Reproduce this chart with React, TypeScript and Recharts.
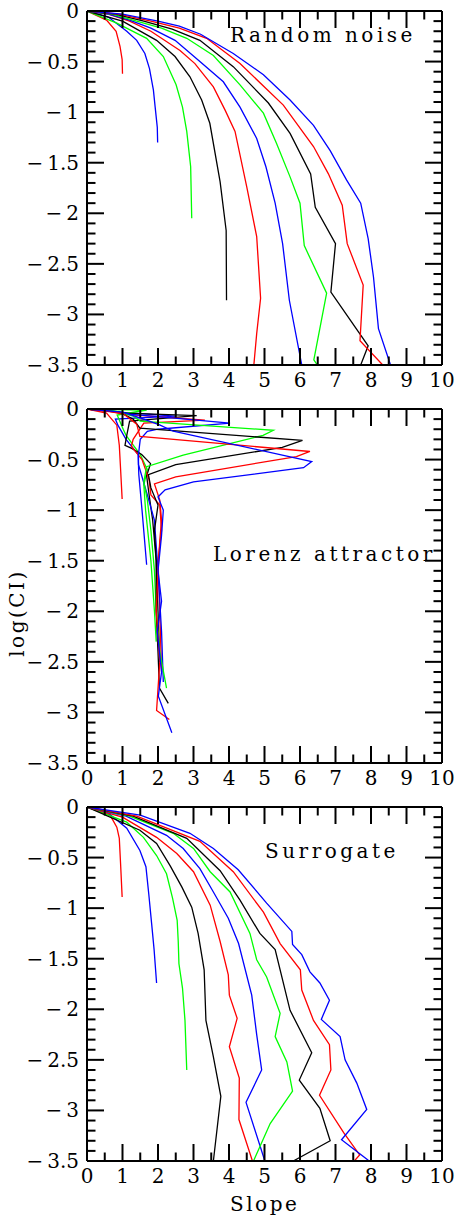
import React from 'react';
import { LineChart, Line, XAxis, YAxis } from 'recharts';

type Pt = { x: number; y: number };
const pts = (arr: number[][]): Pt[] => arr.map(([x, y]) => ({ x, y }));

// colour cycle for embedding dimensions 1..10
const dimColors = ['#ff0000', '#0000ff', '#00ff00', '#000000', '#ff0000', '#0000ff', '#00ff00', '#000000', '#ff0000', '#0000ff'];

const xTicks = [0, 0.5, 1, 1.5, 2, 2.5, 3, 3.5, 4, 4.5, 5, 5.5, 6, 6.5, 7, 7.5, 8, 8.5, 9, 9.5, 10];
const yTicks = [
  0, -0.1, -0.2, -0.3, -0.4, -0.5, -0.6, -0.7, -0.8, -0.9, -1, -1.1, -1.2, -1.3, -1.4, -1.5, -1.6, -1.7,
  -1.8, -1.9, -2, -2.1, -2.2, -2.3, -2.4, -2.5, -2.6, -2.7, -2.8, -2.9, -3, -3.1, -3.2, -3.3, -3.4, -3.5,
];

// Random noise
const noiseD1 = pts([[0, 0], [0.55, -0.09], [0.82, -0.2], [0.93, -0.35], [0.99, -0.48], [1.0, -0.62]]);
const noiseD2 = pts([[0, 0], [0.6, -0.06], [1.12, -0.2], [1.4, -0.29], [1.63, -0.42], [1.76, -0.57], [1.87, -0.78], [1.92, -0.95], [1.98, -1.15], [1.99, -1.3]]);
const noiseD3 = pts([[0, 0], [0.84, -0.12], [1.68, -0.27], [2.15, -0.45], [2.51, -0.73], [2.69, -0.95], [2.81, -1.19], [2.92, -1.54], [2.95, -2.05]]);
const noiseD4 = pts([[0, 0], [1.0, -0.1], [1.96, -0.29], [2.48, -0.45], [2.9, -0.65], [3.23, -0.88], [3.46, -1.11], [3.75, -1.69], [3.92, -2.17], [3.93, -2.86]]);
const noiseD5 = pts([[0, 0], [0.6, -0.03], [1.2, -0.1], [1.8, -0.2], [2.62, -0.39], [3.04, -0.52], [3.56, -0.75], [3.89, -0.98], [4.17, -1.19], [4.5, -1.74], [4.78, -2.23], [4.89, -2.84], [4.78, -3.19], [4.7, -3.5]]);
const noiseD6 = pts([[0, 0], [0.6, -0.03], [1.2, -0.09], [1.8, -0.17], [2.48, -0.29], [3.18, -0.5], [3.84, -0.7], [4.31, -0.95], [4.78, -1.26], [5.04, -1.54], [5.3, -1.9], [5.51, -2.3], [5.7, -2.86], [6.05, -3.5]]);
const noiseD7 = pts([[0, 0], [0.7, -0.03], [1.4, -0.1], [2.1, -0.17], [2.81, -0.27], [3.56, -0.44], [4.31, -0.73], [4.97, -1.01], [5.34, -1.31], [5.72, -1.64], [6.0, -1.9], [6.12, -2.32], [6.75, -2.79], [6.39, -3.45], [6.49, -3.5]]);
const noiseD8 = pts([[0, 0], [0.8, -0.03], [1.6, -0.1], [2.4, -0.18], [3.18, -0.29], [4.12, -0.55], [5.11, -0.91], [5.72, -1.21], [6.3, -1.61], [6.43, -1.94], [7.0, -2.3], [6.87, -2.78], [7.92, -3.31], [7.71, -3.5]]);
const noiseD9 = pts([[0, 0], [0.9, -0.03], [1.8, -0.1], [2.6, -0.17], [3.37, -0.27], [4.31, -0.52], [5.53, -0.93], [6.38, -1.34], [6.8, -1.61], [7.19, -1.92], [7.33, -2.3], [7.78, -2.71], [7.69, -3.26], [8.33, -3.5]]);
const noiseD10 = pts([[0, 0], [1.0, -0.03], [2.0, -0.1], [2.6, -0.15], [3.2, -0.23], [4.12, -0.42], [4.97, -0.63], [5.72, -0.88], [6.38, -1.13], [6.85, -1.38], [7.31, -1.67], [7.71, -1.9], [7.92, -2.25], [8.07, -2.63], [8.21, -3.14], [8.55, -3.5]]);

// Lorenz attractor
const lorenzD1 = pts([[0, 0], [0.55, -0.04], [0.84, -0.16], [0.91, -0.36], [0.95, -0.62], [0.99, -0.89]]);
const lorenzD2 = pts([[0, 0], [0.5, -0.01], [0.9, -0.03], [2.48, -0.07], [0.8, -0.1], [0.87, -0.16], [1.1, -0.3], [1.44, -0.45], [1.46, -0.65], [1.55, -1.0], [1.68, -1.54]]);
const lorenzD3 = pts([[0, 0], [0.6, -0.005], [1.68, -0.01], [0.85, -0.06], [1.02, -0.2], [1.1, -0.26], [1.5, -0.45], [1.7, -0.6], [1.6, -0.75], [1.65, -1.0], [1.8, -1.5], [1.9, -2.0], [1.95, -2.3]]);
const lorenzD4 = pts([[0, 0], [0.7, -0.02], [1.1, -0.04], [3.09, -0.066], [1.2, -0.12], [1.12, -0.26], [1.07, -0.36], [1.26, -0.39], [1.54, -0.45], [1.79, -0.54], [1.68, -0.66], [1.75, -0.85], [1.85, -1.1], [1.95, -1.5], [2.0, -2.0], [2.05, -2.5]]);
const lorenzD5 = pts([[0, 0], [0.6, -0.02], [1.0, -0.05], [3.32, -0.11], [1.6, -0.14], [1.3, -0.3], [1.25, -0.37], [1.55, -0.5], [1.75, -0.7], [1.8, -0.85], [2.05, -0.95], [2.1, -1.2], [2.0, -1.5], [2.05, -2.0], [2.1, -2.6]]);
const lorenzD6 = pts([[0, 0], [0.7, -0.02], [1.2, -0.05], [4.03, -0.14], [2.0, -0.2], [1.7, -0.22], [1.5, -0.3], [1.45, -0.45], [1.45, -0.55], [1.7, -0.85], [1.9, -1.1], [2.0, -1.6], [2.1, -2.2], [2.15, -2.7]]);
const lorenzD7 = pts([[0, 0], [0.8, -0.02], [1.3, -0.07], [1.5, -0.12], [5.25, -0.21], [4.96, -0.26], [2.71, -0.455], [1.68, -0.57], [1.6, -0.72], [1.7, -0.9], [1.8, -1.2], [1.9, -1.6], [1.95, -2.0], [2.05, -2.4], [2.24, -2.76]]);
const lorenzD8 = pts([[0, 0], [0.9, -0.03], [1.3, -0.1], [1.49, -0.19], [6.07, -0.31], [5.5, -0.38], [2.5, -0.55], [1.73, -0.65], [1.8, -0.78], [2.0, -0.95], [1.9, -1.2], [1.95, -1.5], [1.95, -2.0], [2.0, -2.4], [2.04, -2.76], [2.29, -2.91]]);
const lorenzD9 = pts([[0, 0], [1.0, -0.04], [1.4, -0.15], [1.49, -0.27], [6.28, -0.42], [5.9, -0.47], [2.5, -0.67], [1.9, -0.74], [2.05, -0.9], [2.1, -1.1], [2.05, -1.3], [2.0, -1.6], [1.95, -2.0], [2.05, -2.5], [1.96, -2.98], [2.32, -3.07]]);
const lorenzD10 = pts([[0, 0], [1.0, -0.03], [1.6, -0.1], [2.06, -0.16], [2.43, -0.22], [6.33, -0.52], [6.1, -0.58], [3.0, -0.72], [2.2, -0.8], [2.0, -0.87], [2.15, -1.0], [2.1, -1.25], [2.0, -1.6], [2.1, -1.9], [1.98, -2.2], [2.1, -2.6], [2.01, -2.84], [2.39, -3.2]]);

// Surrogate
const surrD1 = pts([[0, 0], [0.65, -0.08], [0.84, -0.2], [0.91, -0.31], [0.95, -0.59], [0.99, -0.89]]);
const surrD2 = pts([[0, 0], [0.6, -0.06], [1.12, -0.21], [1.49, -0.43], [1.66, -0.59], [1.74, -0.86], [1.82, -1.15], [1.89, -1.41], [1.96, -1.74]]);
const surrD3 = pts([[0, 0], [1.12, -0.15], [1.59, -0.3], [1.96, -0.48], [2.24, -0.66], [2.41, -0.9], [2.54, -1.12], [2.57, -1.33], [2.59, -1.55], [2.69, -1.79], [2.76, -2.11], [2.81, -2.6]]);
const surrD4 = pts([[0, 0], [1.49, -0.23], [1.96, -0.36], [2.34, -0.58], [2.67, -0.79], [2.95, -0.99], [3.13, -1.25], [3.3, -1.61], [3.35, -2.11], [3.56, -2.47], [3.77, -2.86], [3.56, -3.5]]);
const surrD5 = pts([[0, 0], [1.0, -0.1], [1.96, -0.3], [2.53, -0.46], [3.0, -0.64], [3.47, -0.97], [3.75, -1.33], [3.98, -1.66], [4.01, -1.86], [4.23, -2.09], [4.01, -2.37], [4.29, -2.68], [4.28, -3.09], [4.66, -3.5]]);
const surrD6 = pts([[0, 0], [1.1, -0.09], [2.24, -0.28], [2.71, -0.41], [3.18, -0.61], [3.56, -0.84], [3.98, -1.1], [4.27, -1.35], [4.64, -1.86], [4.78, -2.25], [4.92, -2.6], [4.48, -2.92], [5.01, -3.5]]);
const surrD7 = pts([[0, 0], [1.2, -0.09], [2.43, -0.26], [3.0, -0.41], [3.47, -0.64], [4.03, -0.84], [4.59, -1.25], [4.78, -1.51], [5.06, -1.68], [5.44, -2.04], [5.3, -2.27], [5.63, -2.52], [5.79, -2.81], [5.16, -3.13], [4.69, -3.5]]);
const surrD8 = pts([[0, 0], [1.3, -0.09], [2.81, -0.31], [3.75, -0.63], [4.31, -0.92], [4.87, -1.25], [5.3, -1.41], [5.72, -2.01], [6.33, -2.43], [5.98, -2.7], [6.56, -2.98], [6.85, -3.3], [5.81, -3.5]]);
const surrD9 = pts([[0, 0], [1.4, -0.09], [3.18, -0.34], [4.12, -0.64], [4.97, -1.04], [5.44, -1.35], [6.01, -1.61], [6.05, -1.81], [6.38, -2.11], [6.83, -2.35], [6.87, -2.6], [6.55, -2.85], [7.23, -3.22], [7.68, -3.44], [7.53, -3.5]]);
const surrD10 = pts([[0, 0], [1.5, -0.08], [2.9, -0.26], [3.56, -0.41], [4.26, -0.62], [5.06, -0.95], [5.77, -1.23], [5.79, -1.36], [6.05, -1.46], [6.28, -1.63], [6.56, -1.74], [6.83, -1.91], [6.6, -2.1], [7.13, -2.27], [7.27, -2.5], [7.6, -2.73], [7.88, -2.99], [7.17, -3.29], [7.95, -3.5]]);

const noiseSeries = [noiseD1, noiseD2, noiseD3, noiseD4, noiseD5, noiseD6, noiseD7, noiseD8, noiseD9, noiseD10];
const lorenzSeries = [lorenzD1, lorenzD2, lorenzD3, lorenzD4, lorenzD5, lorenzD6, lorenzD7, lorenzD8, lorenzD9, lorenzD10];
const surrSeries = [surrD1, surrD2, surrD3, surrD4, surrD5, surrD6, surrD7, surrD8, surrD9, surrD10];

const FONT = '"DejaVu Serif", serif';
const MAJOR = 17;
const MINOR = 8.5;

const fmtY = (v: number) => (v === 0 ? '0' : '\u2212\u2009' + String(Math.abs(v)));
const isHalf = (v: number) => Math.abs(v * 2 - Math.round(v * 2)) < 1e-6;

const makeXTick = (side: 'bottom' | 'top') => (props: any) => {
  const { x, y, payload } = props;
  const v = payload.value;
  const len = Number.isInteger(v) ? MAJOR : MINOR;
  const dir = side === 'bottom' ? -1 : 1;
  return (
    <g>
      <line x1={x} y1={y} x2={x} y2={y + dir * len} stroke="#000" strokeWidth={2} />
      {side === 'bottom' && Number.isInteger(v) && (
        <text x={x} y={y + 22} textAnchor="middle" fontFamily={FONT} fontSize={20} fill="#000">
          {v}
        </text>
      )}
    </g>
  );
};

const makeYTick = (side: 'left' | 'right') => (props: any) => {
  const { x, y, payload } = props;
  const v = payload.value;
  const len = isHalf(v) ? MAJOR : MINOR;
  const dir = side === 'left' ? 1 : -1;
  return (
    <g>
      <line x1={x} y1={y} x2={x + dir * len} y2={y} stroke="#000" strokeWidth={2} />
      {side === 'left' && isHalf(v) && (
        <text x={x - 8} y={y + 7} textAnchor="end" fontFamily={FONT} fontSize={20} fill="#000">
          {fmtY(v)}
        </text>
      )}
    </g>
  );
};

const axisLine = { stroke: '#000', strokeWidth: 2 };

const Panel = ({ series, top }: { series: Pt[][]; top: number }) => (
  <div style={{ position: 'absolute', left: 0, top }}>
    <LineChart width={458} height={400} margin={{ top: 10, right: 15, bottom: 34, left: 86 }}>
      <XAxis xAxisId="b" type="number" dataKey="x" domain={[0, 10]} ticks={xTicks} interval={0}
        allowDataOverflow tickSize={0} tickMargin={0} height={1} tickLine={false}
        axisLine={axisLine} tick={makeXTick('bottom')} />
      <XAxis xAxisId="t" orientation="top" type="number" dataKey="x" domain={[0, 10]} ticks={xTicks} interval={0}
        allowDataOverflow tickSize={0} tickMargin={0} height={1} tickLine={false}
        axisLine={axisLine} tick={makeXTick('top')} />
      <YAxis yAxisId="l" type="number" domain={[-3.5, 0]} ticks={yTicks} interval={0}
        allowDataOverflow tickSize={0} tickMargin={0} width={1} tickLine={false}
        axisLine={axisLine} tick={makeYTick('left')} />
      <YAxis yAxisId="r" orientation="right" type="number" domain={[-3.5, 0]} ticks={yTicks} interval={0}
        allowDataOverflow tickSize={0} tickMargin={0} width={1} tickLine={false}
        axisLine={axisLine} tick={makeYTick('right')} />
      {series.map((s, i) => (
        <Line key={i} xAxisId="b" yAxisId="l" data={s} dataKey="y" type="linear" dot={false}
          stroke={dimColors[i]} strokeWidth={1.3} isAnimationActive={false} />
      ))}
    </LineChart>
  </div>
);

const labelStyle: React.CSSProperties = {
  position: 'absolute',
  fontFamily: FONT,
  fontSize: 20,
  lineHeight: '20px',
  letterSpacing: 3.5,
  whiteSpace: 'nowrap',
  color: '#000',
};

export default function App() {
  return (
    <div style={{ position: 'absolute', left: 0, top: 0, width: 458, height: 1221, background: '#fff' }}>
      <Panel series={noiseSeries} top={0} />
      <Panel series={lorenzSeries} top={398} />
      <Panel series={surrSeries} top={796} />
      <div style={{ ...labelStyle, left: 230, top: 25 }}>Random noise</div>
      <div style={{ ...labelStyle, left: 213, top: 544 }}>Lorenz attractor</div>
      <div style={{ ...labelStyle, left: 265, top: 841 }}>Surrogate</div>
      <div style={{ ...labelStyle, left: 230, top: 1194, letterSpacing: 2.5 }}>Slope</div>
      <div style={{ ...labelStyle, left: 17, top: 613, letterSpacing: 2.5, transform: 'translate(-50%, -50%) rotate(-90deg)' }}>log(CI)</div>
    </div>
  );
}
